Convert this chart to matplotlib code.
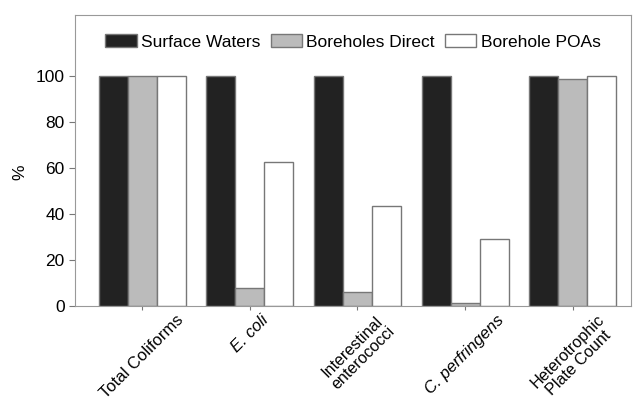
import matplotlib.pyplot as plt
import numpy as np

plt.rcParams["font.family"] = ["Liberation Sans", "DejaVu Sans"]

categories = ["Total Coliforms", "E. coli", "Interestinal\nenterococci", "C. perfringens", "Heterotrophic\nPlate Count"]
italic = [False, True, False, True, False]
surface_waters = [100, 100, 100, 100, 100]
boreholes_direct = [100, 8, 6, 1.5, 98.5]
borehole_poas = [100, 62.5, 43.5, 29, 100]

series = [
    ("Surface Waters", surface_waters, "#222222"),
    ("Boreholes Direct", boreholes_direct, "#bbbbbb"),
    ("Borehole POAs", borehole_poas, "#ffffff"),
]

fig = plt.figure(figsize=(6.36, 4.03), dpi=100)
ax = fig.add_axes([0.118, 0.2407, 0.874, 0.7221])

x = np.arange(len(categories))
w = 0.27
for i, (name, vals, color) in enumerate(series):
    ax.bar(x + (i - 1) * w, vals, w, color=color, edgecolor="#777777", linewidth=1.0, label=name)

ax.set_xlim(-0.623, 4.54)
ax.set_ylim(0, 126.5)
ax.set_yticks([0, 20, 40, 60, 80, 100])
ax.set_ylabel("%", fontsize=12.5)
ax.yaxis.set_label_coords(-0.085, 0.46)
ax.set_xticks(x)
ax.set_xticklabels(categories, rotation=45, ha="center", multialignment="center", fontsize=12)
for lbl, it in zip(ax.get_xticklabels(), italic):
    lbl.set_linespacing(1.05)
    if "\n" in lbl.get_text():
        lbl.set_fontsize(11.6)
    if it:
        lbl.set_fontstyle("italic")
ax.tick_params(axis="y", labelsize=12.5, color="#777777", length=4)
ax.tick_params(axis="x", color="#777777", length=3, pad=1.5)
for s in ax.spines.values():
    s.set_color("#999999")

ax.legend(loc="center", bbox_to_anchor=(0.5, 0.907), ncol=3, frameon=False, fontsize=12.5,
          handlelength=1.8, handleheight=0.7, handletextpad=0.25, columnspacing=0.6, borderaxespad=0.0)

fig.savefig("out.png", dpi=100)
